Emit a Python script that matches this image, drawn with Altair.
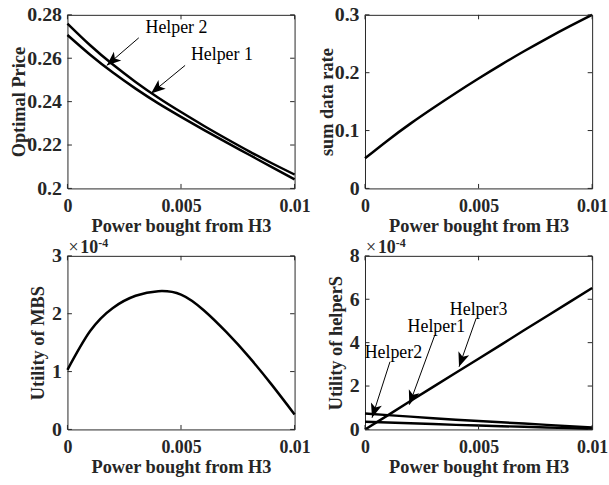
import math
import altair as alt
import pandas as pd

# ---------------- data ----------------
x_power = [0.0, 0.001, 0.002, 0.003, 0.004, 0.005, 0.006, 0.007, 0.008, 0.009, 0.01]

price_helper2 = [0.2760, 0.2660, 0.2571, 0.2491, 0.2418, 0.2352, 0.2289, 0.2229, 0.2171, 0.2116, 0.2064]
price_helper1 = [0.2707, 0.2616, 0.2534, 0.2460, 0.2392, 0.2330, 0.2270, 0.2212, 0.2155, 0.2098, 0.2042]

sum_rate = [0.052, 0.083, 0.112, 0.139, 0.165, 0.190, 0.214, 0.237, 0.259, 0.280, 0.300]

mbs_utility = [1.03e-4, 1.70e-4, 2.10e-4, 2.31e-4, 2.39e-4, 2.33e-4, 2.06e-4, 1.68e-4, 1.25e-4, 0.77e-4, 0.26e-4]

util_helper1 = [0.35e-4, 0.32e-4, 0.28e-4, 0.25e-4, 0.21e-4, 0.18e-4, 0.15e-4, 0.12e-4, 0.09e-4, 0.06e-4, 0.03e-4]
util_helper2 = [0.73e-4, 0.66e-4, 0.59e-4, 0.52e-4, 0.45e-4, 0.39e-4, 0.33e-4, 0.27e-4, 0.21e-4, 0.15e-4, 0.09e-4]
util_helper3 = [0.0, 0.65e-4, 1.31e-4, 1.96e-4, 2.61e-4, 3.26e-4, 3.91e-4, 4.57e-4, 5.22e-4, 5.87e-4, 6.52e-4]

x_ticks = [0, 0.005, 0.01]
price_ticks = [0.2, 0.22, 0.24, 0.26, 0.28]
rate_ticks = [0, 0.1, 0.2, 0.3]
mbs_ticks = [0, 1e-4, 2e-4, 3e-4]
helper_ticks = [0, 2e-4, 4e-4, 6e-4, 8e-4]

x_title = "Power bought from H3"

# annotations: label, text position, arrow tail, arrow tip (data coordinates)
price_notes = [
    {"label": "Helper 2", "tx": 0.0048, "ty": 0.2739, "x0": 0.00314, "y0": 0.2694, "x1": 0.00173, "y1": 0.2567},
    {"label": "Helper 1", "tx": 0.0068, "ty": 0.2616, "x0": 0.00518, "y0": 0.2567, "x1": 0.00368, "y1": 0.2438},
]
helper_notes = [
    {"label": "Helper3", "tx": 0.0050, "ty": 5.49e-4, "x0": 0.00489, "y0": 5.11e-4, "x1": 0.00414, "y1": 2.89e-4},
    {"label": "Helper1", "tx": 0.00314, "ty": 4.70e-4, "x0": 0.00307, "y0": 4.34e-4, "x1": 0.00195, "y1": 1.14e-4},
    {"label": "Helper2", "tx": 0.00125, "ty": 3.51e-4, "x0": 0.00110, "y0": 3.12e-4, "x1": 0.00031, "y1": 0.54e-4},
]

# ---------------- styling ----------------
W, H = 229, 175
FONT = "Liberation Serif"
AXC = "#262626"
TICK = 4.5
ARROW_PATH = "M0,0L0.72,1.8L0,1.35L-0.72,1.8Z"


def lines_df(series):
    rows = []
    for name, vals in series.items():
        for xv, yv in zip(x_power, vals):
            rows.append({"x": xv, "y": yv, "series": name})
    return pd.DataFrame(rows)


def panel(series, y_domain, y_ticks, y_title, title_x, label_expr, notes, exponent, interp):
    xs = alt.Scale(domain=[0, 0.01], nice=False, zero=False)
    ys = alt.Scale(domain=y_domain, nice=False, zero=False)
    x_axis = alt.Axis(
        values=x_ticks, format="~g", ticks=False, domain=False, grid=False,
        labelFont=FONT, labelFontSize=18, labelFontWeight="bold", labelColor=AXC,
        labelPadding=9, labelOverlap=False, labelFlush=False, labelBound=False,
        title=x_title, titleFont=FONT, titleFontSize=18.5, titleFontWeight="bold",
        titleColor=AXC, titleY=37, titleX=W / 2, titleBaseline="middle", titleAlign="center",
    )
    y_kw = dict(
        values=y_ticks, ticks=False, domain=False, grid=False,
        labelFont=FONT, labelFontSize=20, labelFontWeight="bold", labelColor=AXC,
        labelPadding=6, labelOverlap=False, labelFlush=False, labelBound=False,
        title=y_title, titleFont=FONT, titleFontSize=18.5, titleFontWeight="bold",
        titleColor=AXC, titleX=title_x, titleY=H / 2, titleBaseline="middle", titleAlign="center",
    )
    if label_expr:
        y_kw["labelExpr"] = label_expr
    else:
        y_kw["format"] = "~g"
    y_axis = alt.Axis(**y_kw)

    def X(f):
        return alt.X(f, scale=xs, axis=x_axis)

    def Y(f):
        return alt.Y(f, scale=ys, axis=y_axis)

    base_lines = alt.Chart(lines_df(series)).mark_line(
        color="black", strokeWidth=2.5, interpolate=interp
    ).encode(x=X("x:Q"), y=Y("y:Q"), detail="series:N")

    xt = pd.DataFrame({"t": x_ticks})
    yt = pd.DataFrame({"t": y_ticks})
    tick_style = dict(color=AXC, strokeWidth=1)
    xb = alt.Chart(xt).mark_rule(**tick_style).encode(
        x=X("t:Q"), y=alt.value(H), y2=alt.value(H - TICK))
    xtop = alt.Chart(xt).mark_rule(**tick_style).encode(
        x=X("t:Q"), y=alt.value(0), y2=alt.value(TICK))
    yl = alt.Chart(yt).mark_rule(**tick_style).encode(
        y=Y("t:Q"), x=alt.value(0), x2=alt.value(TICK))
    yr = alt.Chart(yt).mark_rule(**tick_style).encode(
        y=Y("t:Q"), x=alt.value(W - TICK), x2=alt.value(W))

    layers = [base_lines, xb, xtop, yl, yr]

    if notes:
        span_y = y_domain[1] - y_domain[0]
        recs = []
        for n in notes:
            dx = (n["x1"] - n["x0"]) / 0.01 * W
            dy = -(n["y1"] - n["y0"]) / span_y * H
            ang = math.degrees(math.atan2(dx, -dy)) % 360
            recs.append(dict(n, angle=ang))
        nd = pd.DataFrame(recs)
        txt = alt.Chart(nd).mark_text(
            font=FONT, fontSize=18, color="black", align="center", baseline="middle"
        ).encode(x=X("tx:Q"), y=Y("ty:Q"), text="label:N")
        shaft = alt.Chart(nd).mark_rule(color="black", strokeWidth=1).encode(
            x=X("x0:Q"), y=Y("y0:Q"), x2="x1:Q", y2="y1:Q")
        head = alt.Chart(nd).mark_point(
            shape=ARROW_PATH, filled=True, color="black", size=256, opacity=1, strokeWidth=0
        ).encode(x=X("x1:Q"), y=Y("y1:Q"), angle=alt.Angle("angle:Q", scale=None))
        layers += [shaft, head, txt]

    if exponent:
        one = pd.DataFrame({"k": [0]})
        times = alt.Chart(one).mark_text(
            font=FONT, fontSize=18, color=AXC, align="left", baseline="alphabetic"
        ).encode(x=alt.value(1), y=alt.value(-3), text=alt.value("\u00d7"))
        ten = alt.Chart(one).mark_text(
            font=FONT, fontSize=18, fontWeight="bold", color=AXC, align="left", baseline="alphabetic"
        ).encode(x=alt.value(13), y=alt.value(-3), text=alt.value("10"))
        exp = alt.Chart(one).mark_text(
            font=FONT, fontSize=12, fontWeight="bold", color=AXC, align="left", baseline="alphabetic"
        ).encode(x=alt.value(31), y=alt.value(-9), text=alt.value("-4"))
        layers += [times, ten, exp]

    return alt.layer(*layers).properties(width=W, height=H)


p1 = panel({"Helper 2": price_helper2, "Helper 1": price_helper1}, [0.2, 0.28], price_ticks,
           "Optimal Price", -49, None, price_notes, False, "natural")
p2 = panel({"sum": sum_rate}, [0, 0.3], rate_ticks, "sum data rate", -39, None, None, False, "natural")
p3 = panel({"MBS": mbs_utility}, [0, 3e-4], mbs_ticks, "Utility of MBS", -30,
           "format(datum.value * 10000, '.0f')", None, True, "natural")
p4 = panel({"Helper1": util_helper1, "Helper2": util_helper2, "Helper3": util_helper3}, [0, 8e-4],
           helper_ticks, "Utility of helperS", -30, "format(datum.value * 10000, '.0f')",
           helper_notes, True, "linear")

chart = alt.concat(p1, p2, p3, p4, columns=2, spacing={"row": 68, "column": 71}, bounds="flush").properties(
    padding={"left": 9, "top": 2, "right": 0, "bottom": 0},
    background="white",
).configure_view(stroke=AXC, strokeWidth=1)

chart.save("out.html", embed_options={"renderer": "svg", "actions": False})
